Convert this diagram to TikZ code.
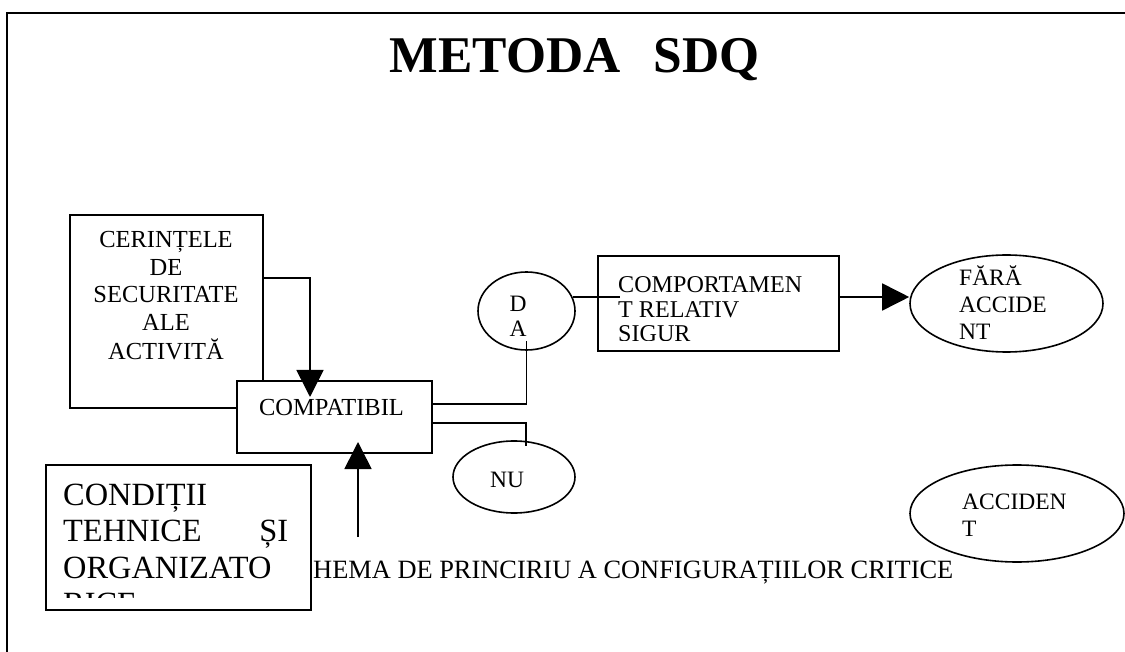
\documentclass[tikz,border=0pt]{standalone}
\usepackage{fontspec}
\setmainfont{Liberation Serif}
\usetikzlibrary{arrows.meta,shapes.geometric,calc}
\begin{document}
\begin{tikzpicture}[x=1pt,y=-1pt,
  box/.style={draw, line width=2pt, fill=white, rectangle, inner sep=0pt},
  oval/.style={draw, line width=1.6pt, fill=white, ellipse, inner sep=0pt},
  conn/.style={line width=1.6pt},
  bigarrow/.style={conn, -{Triangle[length=27pt,width=27pt]}},
  txt/.style={inner sep=0pt, font=\fontsize{23.5}{27.5}\selectfont},
  bigtxt/.style={inner sep=0pt, font=\fontsize{24.5}{27.5}\selectfont},
  frame/.style={line width=2.5pt}
]
\useasboundingbox (0,0) rectangle (1125,652);

% frame
\draw[frame] (7,652) -- (7,13) -- (1125,13);

% title
\node[inner sep=0pt, anchor=base, font=\fontsize{51.5}{56}\selectfont\bfseries] (title) at (574.5,73) {METODA\hspace{33pt}SDQ};

% boxes
\node[box, minimum width=193pt, minimum height=193pt] (cer) at (166.5,311.5) {};
\node[box, minimum width=195pt, minimum height=72pt] (comp) at (334.5,417) {};
\node[box, minimum width=265pt, minimum height=145pt] (cond) at (178.5,537.5) {};
\node[box, minimum width=241pt, minimum height=95pt] (comport) at (718.5,303.5) {};

% ellipses
\node[oval, minimum width=97pt, minimum height=78pt] (da) at (526.5,311) {};
\node[oval, minimum width=122pt, minimum height=72pt] (nu) at (514,477) {};
\node[oval, minimum width=193pt, minimum height=97pt] (fara) at (1006.5,303.5) {};
\node[oval, minimum width=214pt, minimum height=97pt] (acc) at (1017,513.5) {};

% texts
\node[bigtxt, anchor=base] (certxt) at (166,248) {\begin{tabular}[t]{@{}c@{}}CERINȚELE\\DE\\SECURITATE\\ALE\\ACTIVITĂ\end{tabular}};
\node[bigtxt, anchor=base] (comptxt) at (331.5,415) {COMPATIBIL};
\begin{scope}
  \clip (46,465) rectangle (311,597);
  \node[inner sep=0pt, anchor=base west, font=\fontsize{32.4}{36.5}\selectfont] (condtxt) at (63,505)
    {\begin{tabular}[t]{@{}l@{}}CONDIȚII\\\makebox[225pt][l]{TEHNICE\hfill ȘI}\\ORGANIZATO\\RICE\end{tabular}};
\end{scope}
\begin{scope}
  \clip (598,256) rectangle (839,341);
  \node[inner sep=0pt, anchor=base west, font=\fontsize{24.1}{24.5}\selectfont] (comptxt2) at (618,293)
    {\begin{tabular}[t]{@{}l@{}}COMPORTAMEN\\T RELATIV\\SIGUR\end{tabular}};
\end{scope}
\node[inner sep=0pt, anchor=base, font=\fontsize{23.5}{25}\selectfont] (datxt) at (518,312) {\begin{tabular}[t]{@{}c@{}}D\\A\end{tabular}};
\node[txt, anchor=base] (nutxt) at (507,487) {NU};
\node[txt, anchor=base west, font=\fontsize{23.5}{27}\selectfont] (faratxt) at (959,286) {\begin{tabular}[t]{@{}l@{}}FĂRĂ\\ACCIDE\\NT\end{tabular}};
\node[txt, anchor=base west, font=\fontsize{23.5}{27}\selectfont] (acctxt) at (962,509) {\begin{tabular}[t]{@{}l@{}}ACCIDEN\\T\end{tabular}};
\node[inner sep=0pt, anchor=base west, font=\fontsize{26.4}{30}\selectfont] (schema) at (313,578) {HEMA DE PRINCIRIU A CONFIGURAȚIILOR CRITICE};

% connectors
\draw[bigarrow] ([yshift=-64pt]cer.north east) -| ([xshift=-24.5pt,yshift=-17pt]comp.north);
\coordinate (upstart) at (358,537);
\draw[bigarrow] (upstart) -- ($(upstart |- comp.south)+(0,-12)$);
\draw[conn] ([yshift=13pt]comp.east) -| ($(da.south)+(0,-10)$);
\draw[conn] ([yshift=-6pt]comp.east) -| ($(nu.north)+(12,6)$);
\draw[conn] (da.17) -- ++(47,0);
\draw[bigarrow] ([yshift=6.5pt]comport.east) -- ([yshift=6.5pt]comport.east -| fara.west);
\end{tikzpicture}
\end{document}
